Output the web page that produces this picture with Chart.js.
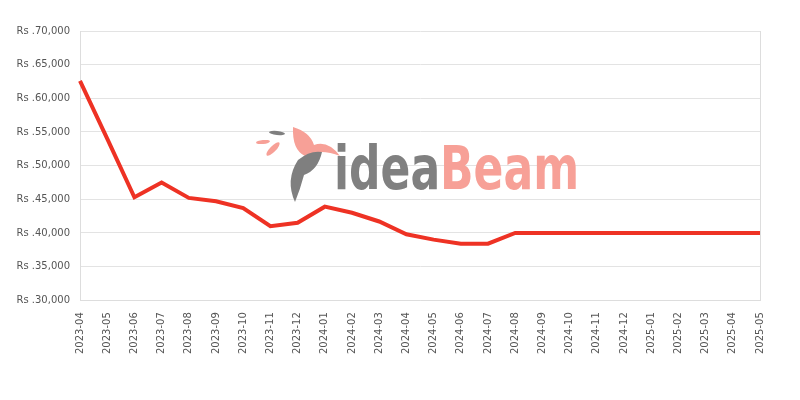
<!DOCTYPE html>
<html>
<head>
<meta charset="utf-8">
<script src="https://cdn.jsdelivr.net/npm/chart.js@4"></script>
<style>
  html, body { margin: 0; padding: 0; background: #fff; }
  #wrap { width: 800px; height: 400px; }
</style>
</head>
<body>
<div id="wrap"><canvas id="priceChart"></canvas></div>
<script>
const months = ["2023-04","2023-05","2023-06","2023-07","2023-08","2023-09","2023-10","2023-11","2023-12",
  "2024-01","2024-02","2024-03","2024-04","2024-05","2024-06","2024-07","2024-08","2024-09","2024-10",
  "2024-11","2024-12","2025-01","2025-02","2025-03","2025-04","2025-05"];
const prices = [62600, 54000, 45300, 47500, 45200, 44700, 43700, 41000, 41500,
  43900, 43000, 41700, 39800, 39000, 38400, 38400, 40000, 40000, 40000,
  40000, 40000, 40000, 40000, 40000, 40000, 40000];
const yMin = 30000, yMax = 70000, yStep = 5000;

// watermark logo, drawn behind the line
const watermark = {
  id: 'watermark',
  beforeDatasetsDraw(chart) {
    const c = chart.ctx;
    c.save();
    // bird (rough shape)
    c.fillStyle = '#f7a097';
    c.beginPath();
    c.moveTo(293, 127);
    c.quadraticCurveTo(310, 132, 314, 145);
    c.quadraticCurveTo(328, 140, 340, 156);
    c.quadraticCurveTo(320, 148, 305, 156);
    c.quadraticCurveTo(292, 150, 293, 127);
    c.fill();
    c.beginPath();
    c.ellipse(263, 142, 7, 2, -0.1, 0, Math.PI * 2);
    c.fill();
    c.beginPath();
    c.ellipse(273, 149, 9, 3, -0.8, 0, Math.PI * 2);
    c.fill();
    // feather
    c.fillStyle = '#7f7f7f';
    c.beginPath();
    c.ellipse(277, 133, 8, 2, 0.1, 0, Math.PI * 2);
    c.fill();
    c.beginPath();
    c.moveTo(295, 202);
    c.quadraticCurveTo(285, 180, 298, 160);
    c.quadraticCurveTo(310, 150, 322, 152);
    c.quadraticCurveTo(318, 170, 304, 175);
    c.quadraticCurveTo(300, 190, 295, 202);
    c.fill();
    // text
    c.font = 'bold 60px "DejaVu Sans Condensed", "DejaVu Sans", sans-serif';
    c.textBaseline = 'alphabetic';
    const w1 = c.measureText('idea').width;
    const w2 = c.measureText('Beam').width;
    const sx = 245 / (w1 + w2);
    c.translate(334, 189);
    c.scale(sx, 1);
    c.fillStyle = '#808080';
    c.fillText('idea', 0, 0);
    c.fillStyle = '#f7a097';
    c.fillText('Beam', w1, 0);
    c.restore();
  }
};

new Chart(document.getElementById('priceChart'), {
  type: 'line',
  data: {
    labels: months,
    datasets: [{
      label: 'Price',
      data: prices,
      borderColor: 'rgb(238, 50, 36)',
      backgroundColor: 'rgb(238, 50, 36)',
      borderWidth: 4,
      pointRadius: 0,
      pointHoverRadius: 0,
      fill: false,
      tension: 0
    }]
  },
  options: {
    responsive: true,
    maintainAspectRatio: false,
    animation: false,
    layout: { padding: { top: 31, right: 40, bottom: 34, left: 0 } },
    plugins: {
      legend: { display: false },
      tooltip: { enabled: false }
    },
    scales: {
      x: {
        offset: false,
        grid: {
          drawTicks: false,
          color: ctx => ctx.index === months.length - 1 ? '#dddddd' : 'rgba(0,0,0,0)'
        },
        border: { color: '#dddddd' },
        ticks: {
          color: '#555',
          font: { family: 'DejaVu Sans', size: 10 },
          maxRotation: 90,
          minRotation: 90,
          padding: 12,
          autoSkip: false
        }
      },
      y: {
        min: yMin,
        max: yMax,
        afterFit: axis => { axis.width = 80; },
        grid: { drawTicks: false, color: '#e3e3e3' },
        border: { color: '#dddddd' },
        ticks: {
          stepSize: yStep,
          color: '#555',
          padding: 10,
          font: { family: 'DejaVu Sans', size: 10 },
          callback: v => 'Rs .' + v.toLocaleString('en-US')
        }
      }
    }
  },
  plugins: [watermark]
});
</script>
</body>
</html>
